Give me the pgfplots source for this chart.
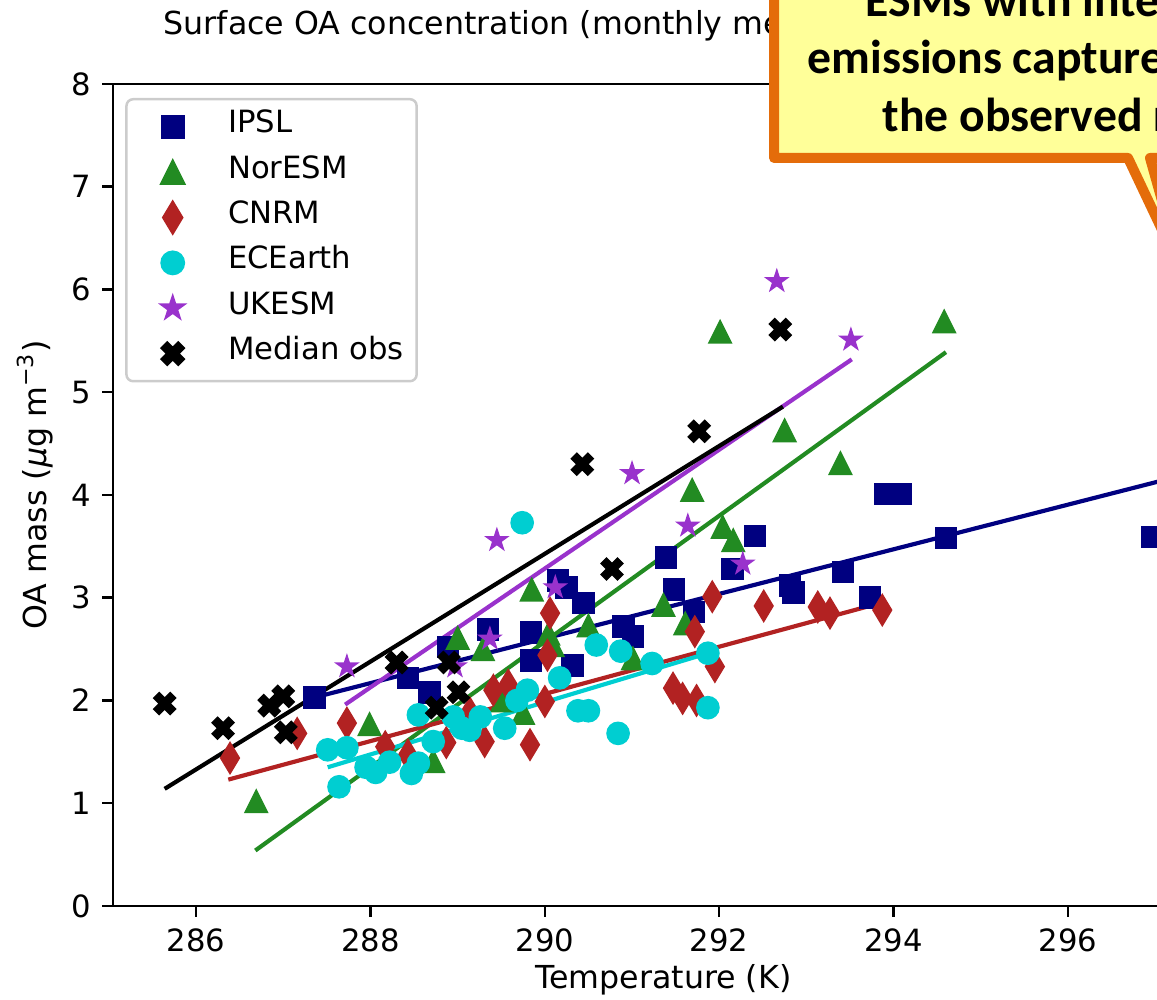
\documentclass[border=0pt]{standalone}
\usepackage{fontspec}
\setmainfont{DejaVu Sans}
\newfontfamily\calfont{Carlito}
\usepackage{pgfplots}
\pgfplotsset{compat=1.18}

\definecolor{cNavy}{RGB}{0,0,128}
\definecolor{cGreen}{RGB}{34,139,34}
\definecolor{cRed}{RGB}{178,34,34}
\definecolor{cCyan}{RGB}{0,206,209}
\definecolor{cPurple}{RGB}{153,50,204}
\definecolor{cYellow}{RGB}{255,255,153}
\definecolor{cOrange}{RGB}{228,108,10}

% matplotlib-like markers
\pgfdeclareplotmark{mtri}{%
  \pgfpathmoveto{\pgfpoint{0pt}{\pgfplotmarksize}}%
  \pgfpathlineto{\pgfpoint{-\pgfplotmarksize}{-\pgfplotmarksize}}%
  \pgfpathlineto{\pgfpoint{\pgfplotmarksize}{-\pgfplotmarksize}}%
  \pgfpathclose\pgfusepathqfillstroke}
\pgfdeclareplotmark{mdia}{%
  \pgfpathmoveto{\pgfpoint{0pt}{\pgfplotmarksize}}%
  \pgfpathlineto{\pgfpoint{0.6\pgfplotmarksize}{0pt}}%
  \pgfpathlineto{\pgfpoint{0pt}{-\pgfplotmarksize}}%
  \pgfpathlineto{\pgfpoint{-0.6\pgfplotmarksize}{0pt}}%
  \pgfpathclose\pgfusepathqfillstroke}
\pgfdeclareplotmark{mstar}{%
  \pgfpathmoveto{\pgfpointpolar{90}{\pgfplotmarksize}}%
  \pgfpathlineto{\pgfpointpolar{126}{0.382\pgfplotmarksize}}%
  \pgfpathlineto{\pgfpointpolar{162}{\pgfplotmarksize}}%
  \pgfpathlineto{\pgfpointpolar{198}{0.382\pgfplotmarksize}}%
  \pgfpathlineto{\pgfpointpolar{234}{\pgfplotmarksize}}%
  \pgfpathlineto{\pgfpointpolar{270}{0.382\pgfplotmarksize}}%
  \pgfpathlineto{\pgfpointpolar{306}{\pgfplotmarksize}}%
  \pgfpathlineto{\pgfpointpolar{342}{0.382\pgfplotmarksize}}%
  \pgfpathlineto{\pgfpointpolar{18}{\pgfplotmarksize}}%
  \pgfpathlineto{\pgfpointpolar{54}{0.382\pgfplotmarksize}}%
  \pgfpathclose\pgfusepathqfillstroke}
\pgfdeclareplotmark{mX}{%
  \pgfpathmoveto{\pgfpoint{0.4714\pgfplotmarksize}{-0.9428\pgfplotmarksize}}%
  \pgfpathlineto{\pgfpoint{0.9428\pgfplotmarksize}{-0.4714\pgfplotmarksize}}%
  \pgfpathlineto{\pgfpoint{0.4714\pgfplotmarksize}{0pt}}%
  \pgfpathlineto{\pgfpoint{0.9428\pgfplotmarksize}{0.4714\pgfplotmarksize}}%
  \pgfpathlineto{\pgfpoint{0.4714\pgfplotmarksize}{0.9428\pgfplotmarksize}}%
  \pgfpathlineto{\pgfpoint{0pt}{0.4714\pgfplotmarksize}}%
  \pgfpathlineto{\pgfpoint{-0.4714\pgfplotmarksize}{0.9428\pgfplotmarksize}}%
  \pgfpathlineto{\pgfpoint{-0.9428\pgfplotmarksize}{0.4714\pgfplotmarksize}}%
  \pgfpathlineto{\pgfpoint{-0.4714\pgfplotmarksize}{0pt}}%
  \pgfpathlineto{\pgfpoint{-0.9428\pgfplotmarksize}{-0.4714\pgfplotmarksize}}%
  \pgfpathlineto{\pgfpoint{-0.4714\pgfplotmarksize}{-0.9428\pgfplotmarksize}}%
  \pgfpathlineto{\pgfpoint{0pt}{-0.4714\pgfplotmarksize}}%
  \pgfpathclose\pgfusepathqfillstroke}

\pgfplotsset{
  scat/.style={only marks,
    legend image code/.code={%
      \path (-9.6pt,0pt) (6.75pt,0pt);
      \draw[mark repeat=2,mark phase=2,##1] plot coordinates {(-5pt,0pt) (0pt,0pt) (5pt,0pt)};}},
  fit/.style={no marks, line width=1.25pt, forget plot},
}

\begin{document}
\begin{tikzpicture}[font=\fontsize{9.2}{11}\selectfont]
\begin{axis}[
  x=26.16pt, y=30.825pt,
  xmin=285.05, xmax=298, ymin=0, ymax=8,
  axis line style={line width=0.75pt},
  tick pos=left, tick align=outside, major tick length=3.3pt,
  every tick/.style={black, line width=0.75pt},
  xtick={286,288,...,296}, ytick={0,1,...,8},
  /pgf/number format/assume math mode=true,
  tick label style={font=\fontsize{9.2}{11}\selectfont},
  xticklabel style={inner sep=0pt, yshift=-3.3pt},
  yticklabel style={inner sep=0pt, xshift=-3.3pt},
  xlabel={Temperature (K)},
  xlabel style={at={(axis cs:291.36,-0.8)}, anchor=base, inner sep=0pt,
    font=\fontsize{9.5}{11.4}\selectfont},
  ylabel={OA mass (\textit{μ}g m\textsuperscript{−3})},
  ylabel style={at={(axis cs:284.28,4.1)}, anchor=base, rotate=0, inner sep=0pt,
    font=\fontsize{9.5}{11.4}\selectfont},
  legend cell align=left,
  legend style={at={(axis cs:285.188,7.864)}, anchor=north west,
    draw=black!20, line width=0.75pt, rounded corners=2pt, fill=white,
    inner xsep=3.9pt, inner ysep=1.5pt,
    nodes={inner sep=0pt, text height=8.6pt, text depth=5pt},
    font=\fontsize{9.2}{11}\selectfont},
  legend style={/tikz/every odd column/.append style={column sep=9.5pt}},
]
% ---------------- scatter ----------------
\addplot[scat, mark=square*, mark size=3.2pt, draw=cNavy, fill=cNavy] coordinates {
(287.36,2.03) (288.43,2.22) (288.68,2.08) (288.89,2.52) (289.35,2.69)
(289.84,2.66) (289.84,2.39) (290.15,3.17) (290.25,3.10) (290.32,2.34)
(290.44,2.95) (290.90,2.72) (291.01,2.62) (291.39,3.39) (291.48,3.08)
(291.71,2.86) (292.15,3.28) (292.41,3.60) (292.81,3.12) (292.85,3.05)
(293.42,3.25) (293.73,3.00) (293.90,4.01) (294.08,4.01) (294.60,3.58)
(296.97,3.59)};
\addlegendentry{IPSL}
\addplot[scat, mark=mtri, mark size=3.4pt, draw=cGreen, fill=cGreen] coordinates {
(286.69,1.02) (287.99,1.77) (288.72,1.41) (289.00,2.61) (289.29,2.50)
(289.51,2.00) (289.75,1.88) (289.85,3.08) (290.04,2.65) (290.09,2.54)
(290.50,2.73) (291.01,2.41) (291.36,2.93) (291.61,2.75) (291.69,4.05)
(292.01,5.59) (292.04,3.69) (292.16,3.56) (292.75,4.63) (293.39,4.31)
(294.58,5.69)};
\addlegendentry{NorESM}
\addplot[scat, mark=mdia, mark size=4.7pt, draw=cRed, fill=cRed] coordinates {
(286.39,1.44) (287.16,1.68) (287.73,1.78) (288.17,1.55) (288.43,1.47)
(288.87,1.59) (289.14,1.88) (289.31,1.60) (289.41,2.10) (289.58,2.15)
(289.83,1.57) (290.00,1.99) (290.03,2.44) (290.06,2.85) (291.47,2.12)
(291.58,2.02) (291.74,2.00) (291.72,2.67) (291.92,3.01) (291.95,2.33)
(292.51,2.92) (293.13,2.91) (293.27,2.85) (293.87,2.88)};
\addlegendentry{CNRM}
\addplot[scat, mark=*, mark size=3.35pt, draw=cCyan, fill=cCyan] coordinates {
(287.51,1.52) (287.73,1.54) (287.64,1.16) (287.95,1.35) (288.06,1.30)
(288.22,1.40) (288.47,1.29) (288.55,1.39) (288.55,1.86) (288.72,1.60)
(288.95,1.84) (289.05,1.73) (289.14,1.71) (289.26,1.84) (289.54,1.73)
(289.68,2.00) (289.80,2.10) (289.74,3.73) (290.17,2.22) (290.38,1.90)
(290.50,1.90) (290.59,2.54) (290.84,1.68) (290.87,2.48) (291.23,2.36)
(291.87,2.46) (291.87,1.93)};
\addlegendentry{ECEarth}
\addplot[scat, mark=mstar, mark size=3.4pt, draw=cPurple, fill=cPurple] coordinates {
(287.73,2.33) (288.97,2.33) (289.37,2.60) (289.45,3.56) (290.12,3.10)
(291.00,4.21) (291.64,3.70) (292.27,3.33) (292.66,6.08) (293.51,5.51)};
\addlegendentry{UKESM}
\addplot[scat, mark=mX, mark size=3.5pt, draw=black, fill=black] coordinates {
(285.64,1.97) (286.31,1.73) (286.84,1.95) (287.00,2.04) (287.03,1.69)
(288.30,2.37) (288.76,1.93) (288.90,2.37) (289.01,2.08) (290.43,4.30)
(290.77,3.28) (291.77,4.62) (292.70,5.61)};
\addlegendentry{Median obs}
% ---------------- fits ----------------
\addplot[fit, cNavy] coordinates {(287.36,2.03) (297.40,4.21)};
\addplot[fit, cGreen] coordinates {(286.68,0.54) (294.60,5.39)};
\addplot[fit, cRed] coordinates {(286.37,1.23) (293.90,2.96)};
\addplot[fit, cCyan] coordinates {(287.51,1.35) (291.87,2.46)};
\addplot[fit, cPurple] coordinates {(287.71,1.96) (293.52,5.32)};
\addplot[fit, black] coordinates {(285.64,1.14) (292.73,4.86)};
\coordinate (O) at (axis cs:283.752,8.8175);
\end{axis}
\begin{scope}[shift={(O)}, x=0.3pt, y=-0.3pt]
  \node[anchor=base west, inner sep=0pt, font=\fontsize{9.5}{11.4}\selectfont] at (163,35) {Surface OA concentration (monthly means)};
  \draw[cOrange, line width=3pt, line join=round, fill=cYellow]
    (774,-60) -- (774,158) -- (1128,158) -- (1182,272) -- (1150,158)
    -- (1400,158) -- (1400,-60) -- cycle;
  \begin{scope}[font=\calfont\bfseries\fontsize{14.3}{17}\selectfont]
    \node[anchor=base west, inner sep=0pt] at (865,17) {ESMs with interactive BVOC};
    \node[anchor=base west, inner sep=0pt] at (807,74) {emissions capture well};
    \node[anchor=base west, inner sep=0pt] at (882,132) {the observed relationship};
  \end{scope}
\end{scope}
\pgfresetboundingbox
\path[use as bounding box] (O) rectangle ++(347.1pt,-299.7pt);
\end{tikzpicture}
\end{document}
